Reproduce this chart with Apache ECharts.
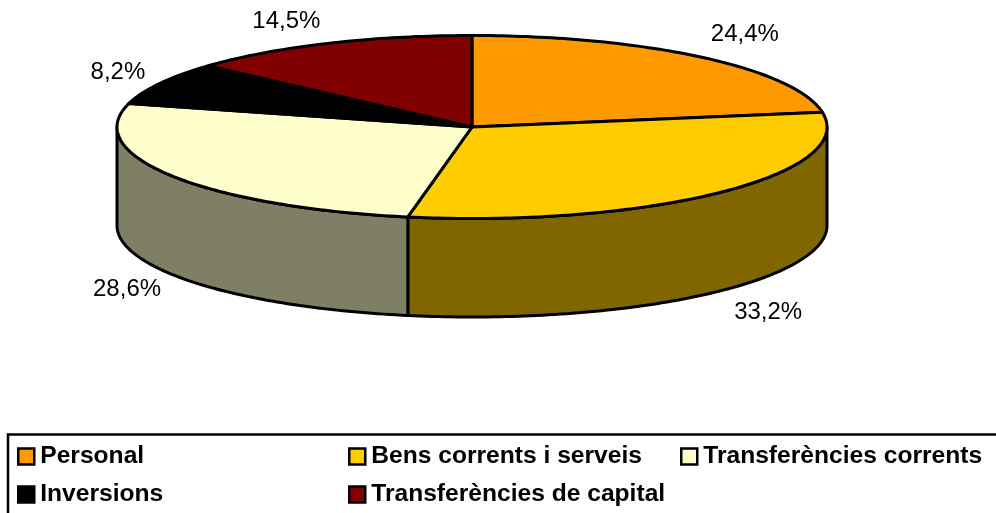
<!DOCTYPE html>
<html>
<head>
<meta charset="utf-8">
<style>html,body{margin:0;padding:0;background:#fff}#c{width:996px;height:513px}</style>
<script src="https://cdn.jsdelivr.net/npm/echarts@6/dist/echarts.min.js"></script>
</head>
<body>
<div id="c"></div>
<script>
const categories = ['Personal','Bens corrents i serveis','Transferències corrents','Inversions','Transferències de capital'];
const values = [24.4,33.2,28.6,8.2,14.5];
const topColors = ['#FF9900','#FFCC00','#FFFFCC','#000000','#800000'];
const wallColors = ['#805000','#806600','#7F7F66','#000000','#800000'];

const CX=472, CY=127, RX=355, RY=91.5, DEPTH=98.5;
const LABEL_RX=420, LABEL_RY=120;
const labelNudge=[[1,-1],[2,1],[10,0],[15,3],[-15,4]];
const total = values.reduce((a,b)=>a+b,0);
const pt=(deg,dy)=>{const r=deg*Math.PI/180;return [CX+RX*Math.sin(r),CY-RY*Math.cos(r)+(dy||0)];};
const startOf=i=>values.slice(0,i).reduce((a,b)=>a+b,0)/total*360;
const arc=(a,b,dy)=>{const out=[];const n=Math.max(2,Math.ceil(Math.abs(b-a)));for(let k=0;k<=n;k++)out.push(pt(a+(b-a)*k/n,dy));return out;};

function renderSlice(i){
  return function(params,api){
    const v=api.value(0), a=startOf(i), b=a+v/total*360, children=[];
    const style={stroke:'#000',lineWidth:3,lineJoin:'round'};
    const wa=Math.max(a,90), wb=Math.min(b,270);
    if(wb>wa){
      const pts=arc(wa,wb,0).concat(arc(wb,wa,DEPTH));
      children.push({type:'polygon',shape:{points:pts},style:{fill:wallColors[i],...style}});
    }
    const poly=[[CX,CY]].concat(arc(a,b,0));
    children.push({type:'polygon',shape:{points:poly},style:{fill:topColors[i],...style}});
    const m=(a+b)/2*Math.PI/180, c=Math.cos(m);
    children.push({type:'text',z2:10,style:{
      text:String(v).replace('.',',')+'%',
      x:CX+LABEL_RX*Math.sin(m)+labelNudge[i][0],
      y:CY-LABEL_RY*c+(c<0?DEPTH:0)+labelNudge[i][1],
      align:'center',verticalAlign:'middle',
      font:'24px "Liberation Sans", Arial, sans-serif',fill:'#000'}});
    return {type:'group',children};
  };
}

const legendBase={orient:'vertical',icon:'rect',itemWidth:16,itemHeight:16,itemGap:13,selectedMode:false,padding:0,
  itemStyle:{borderColor:'#000',borderWidth:2.5},
  textStyle:{fontFamily:'"Liberation Sans", Arial, sans-serif',fontSize:24.6,fontWeight:'bold',color:'#000',padding:[0,0,0,1]}};

const chart=echarts.init(document.getElementById('c'),null,{renderer:'canvas'});
chart.setOption({
  animation:false,
  backgroundColor:'#fff',
  legend:[
    {...legendBase,left:17,top:444,data:[categories[0],categories[3]]},
    {...legendBase,left:348,top:444,data:[categories[1],categories[4]]},
    {...legendBase,left:680,top:444,data:[categories[2]]}
  ],
  graphic:[{type:'rect',shape:{x:8,y:434.5,width:1100,height:200},style:{fill:'none',stroke:'#000',lineWidth:2.5},silent:true}],
  series:categories.map((name,i)=>({
    type:'custom',name,coordinateSystem:'none',
    itemStyle:{color:topColors[i]},
    data:[[values[i]]],
    renderItem:renderSlice(i),
    silent:true
  }))
});
</script>
</body>
</html>
